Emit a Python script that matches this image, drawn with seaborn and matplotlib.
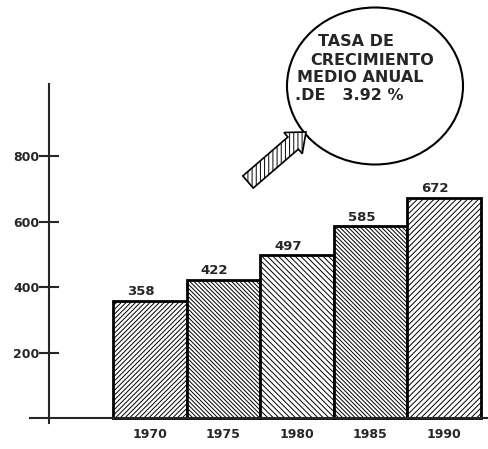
import matplotlib
matplotlib.use('Agg')
import matplotlib.pyplot as plt
import matplotlib.patches as mpatches
import pandas as pd
import seaborn as sns

# data
years = ['1970', '1975', '1980', '1985', '1990']
values = [358, 422, 497, 585, 672]
y_ticks = [200, 400, 600, 800]
hatches = ['///////', '\\\\\\\\\\\\\\\\', '\\\\\\\\\\\\', '\\\\\\\\\\\\\\\\', '//////']
note_lines = ['TASA DE', 'CRECIMIENTO', 'MEDIO ANUAL', '.DE   3.92 %']

sns.set_style('white')
plt.rcParams['font.family'] = ['DejaVu Sans']
plt.rcParams['hatch.linewidth'] = 0.7
plt.rcParams['hatch.color'] = 'black'

df = pd.DataFrame({'year': years, 'value': values})

fig = plt.figure(figsize=(4.88, 4.49), dpi=100)
ax = fig.add_axes([0.0615, 0.0434, 0.9385, 0.7695])

sns.barplot(data=df, x='year', y='value', color='white', width=1.0,
            edgecolor='black', linewidth=2, ax=ax)

for bar, h in zip(ax.patches, hatches):
    bar.set_hatch(h)
    bar.set_facecolor('white')

for i, v in enumerate(values):
    ax.text(i - 0.12, v + 8, str(v), ha='center', va='bottom',
            fontsize=9.5, fontweight='bold')

ax.set_xlim(-1.63, 4.6)
ax.set_ylim(-35, 1020)

for s in ['top', 'right']:
    ax.spines[s].set_visible(False)
ax.spines['left'].set_position(('data', -1.37))
ax.spines['bottom'].set_position(('data', 0))
ax.spines['left'].set_linewidth(1.5)
ax.spines['bottom'].set_linewidth(1.5)
ax.spines['left'].set_bounds(-15, 1020)

ax.set_yticks(y_ticks)
ax.set_yticklabels([str(t) for t in y_ticks], fontsize=9, fontweight='bold')
ax.tick_params(axis='y', direction='inout', length=14, width=1.5, pad=0, left=True)
ax.tick_params(axis='x', length=0, pad=7, labelsize=9)
for lbl in ax.get_xticklabels():
    lbl.set_fontweight('bold')
ax.set_xlabel('')
ax.set_ylabel('')

# growth-rate bubble
ell = mpatches.Ellipse((375 / 488, 1 - 86 / 449), 176 / 488, 157 / 449,
                       transform=fig.transFigure, fill=False,
                       edgecolor='black', linewidth=1.5)
fig.patches.append(ell)
text_pos = [(318, 42), (310, 60), (297, 78), (295, 96)]
for (px, py), line in zip(text_pos, note_lines):
    fig.text(px / 488, 1 - py / 449, line, ha='left', va='center',
             fontsize=11.5, fontweight='bold')

# hollow arrow pointing at the bubble
arr = mpatches.FancyArrow(2.48, 4.49 - 1.82, 0.58, 0.5, width=0.16,
                          head_width=0.28, head_length=0.17,
                          length_includes_head=True, transform=fig.dpi_scale_trans,
                          facecolor='white', edgecolor='black', linewidth=1.2,
                          hatch='||||')
fig.patches.append(arr)

plt.savefig('out.png', dpi=100)
